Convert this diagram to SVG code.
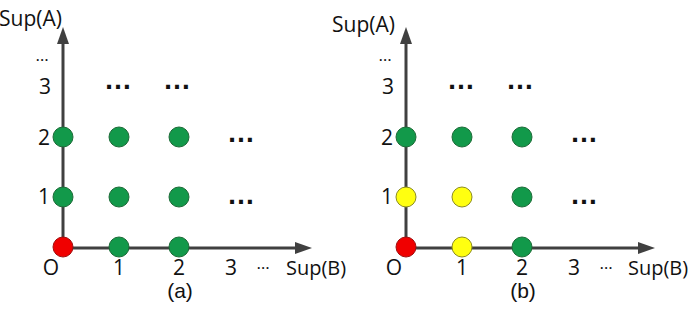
<svg xmlns="http://www.w3.org/2000/svg" width="690" height="310" viewBox="0 0 690 310">
<style>
text{font-family:"Open Sans","Liberation Sans",Arial,sans-serif;font-size:21px;fill:#111}
.ax{stroke:#404040;stroke-width:3;fill:none}
.ah{fill:#404040}
.g{fill:#12994a;stroke:#1d6b38;stroke-width:1}
.r{fill:#f00000;stroke:#a01010;stroke-width:1}
.y{fill:#ffff10;stroke:#8c8c20;stroke-width:1}
.d{font-family:"Liberation Sans",Arial,sans-serif;font-size:28px;font-weight:bold;text-anchor:middle}
.s{font-size:17px;text-anchor:middle}
.m{text-anchor:middle}
.b{font-size:20px}
.c{font-family:"Liberation Sans",Arial,sans-serif;font-size:21px;text-anchor:middle}
</style>
<defs>
<g id="axes">
<line class="ax" x1="63" y1="248" x2="63" y2="42"/>
<polygon class="ah" points="63,27 57,44 69,44"/>
<line class="ax" x1="63" y1="248" x2="296" y2="248"/>
<polygon class="ah" points="312,248 295,242 295,254"/>
</g>
</defs>
<g id="connectors">
<use href="#axes"/>
<use href="#axes" x="343"/>
</g>
<g id="panel-a">
<text x="-1" y="26">Sup(A)</text>
<text class="s" x="42" y="61">…</text>
<text class="m" x="45" y="94">3</text>
<text class="m" x="44" y="145">2</text>
<text class="m" x="44" y="204">1</text>
<text class="m" x="51" y="275">O</text>
<text class="m" x="119" y="275">1</text>
<text class="m" x="179" y="275">2</text>
<text class="m" x="231" y="275">3</text>
<text class="s" x="263" y="269">…</text>
<text class="b" x="286" y="275">Sup(B)</text>
<text class="c" x="180" y="298">(a)</text>
<text class="d" x="118" y="89">…</text>
<text class="d" x="177" y="89">…</text>
<text class="d" x="241" y="142">…</text>
<text class="d" x="241" y="204">…</text>
<g id="a-nodes">
<circle class="g" cx="63" cy="137" r="10"/>
<circle class="g" cx="119" cy="137" r="10"/>
<circle class="g" cx="179" cy="137" r="10"/>
<circle class="g" cx="63" cy="197" r="10"/>
<circle class="g" cx="119" cy="197" r="10"/>
<circle class="g" cx="179" cy="197" r="10"/>
<circle class="r" cx="63" cy="247" r="10"/>
<circle class="g" cx="119" cy="247" r="10"/>
<circle class="g" cx="179" cy="247" r="10"/>
</g>
</g>
<g id="panel-b">
<text x="332" y="32">Sup(A)</text>
<text class="s" x="385" y="61">…</text>
<text class="m" x="388" y="94">3</text>
<text class="m" x="387" y="145">2</text>
<text class="m" x="387" y="204">1</text>
<text class="m" x="394" y="275">O</text>
<text class="m" x="462" y="275">1</text>
<text class="m" x="522" y="275">2</text>
<text class="m" x="574" y="275">3</text>
<text class="s" x="606" y="269">…</text>
<text class="b" x="628" y="275">Sup(B)</text>
<text class="c" x="523" y="298">(b)</text>
<text class="d" x="461" y="89">…</text>
<text class="d" x="520" y="89">…</text>
<text class="d" x="584" y="142">…</text>
<text class="d" x="584" y="204">…</text>
<g id="b-nodes">
<circle class="g" cx="406" cy="137" r="10"/>
<circle class="g" cx="462" cy="137" r="10"/>
<circle class="g" cx="522" cy="137" r="10"/>
<circle class="y" cx="406" cy="197" r="10"/>
<circle class="y" cx="462" cy="197" r="10"/>
<circle class="g" cx="522" cy="197" r="10"/>
<circle class="r" cx="406" cy="247" r="10"/>
<circle class="y" cx="462" cy="247" r="10"/>
<circle class="g" cx="522" cy="247" r="10"/>
</g>
</g>
</svg>
